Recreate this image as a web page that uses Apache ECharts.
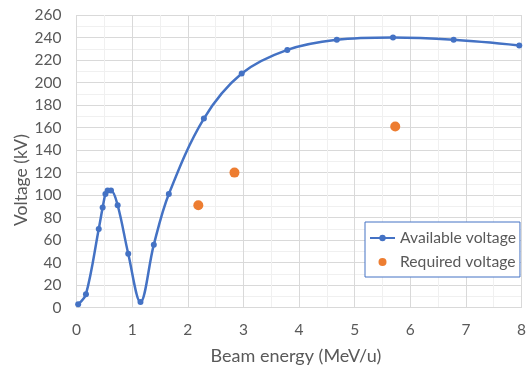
<!DOCTYPE html>
<html><head><meta charset="utf-8">
<script src="https://cdn.jsdelivr.net/npm/echarts@6/dist/echarts.min.js"></script>
<style>html,body{margin:0;padding:0;background:#fff}#c{width:529px;height:372px}</style>
</head><body><div id="c"></div>
<script>
const availEnergy = [0.03, 0.17, 0.40, 0.47, 0.52, 0.56, 0.62, 0.74, 0.93, 1.15, 1.39, 1.66, 2.29, 2.97, 3.79, 4.68, 5.69, 6.78, 7.96];
const availVoltage = [3, 12, 70, 89, 101, 104, 104, 91, 48, 5, 56, 101, 168, 208, 229, 238, 240, 238, 233];
const reqEnergy = [2.19, 2.84, 5.73];
const reqVoltage = [91, 120, 161];
const xTitle = 'Beam energy (MeV/u)';
const yTitle = 'Voltage (kV)';
const seriesNames = ['Available voltage', 'Required voltage'];

const FONT = 'Lato';
const chart = echarts.init(document.getElementById('c'), null, {renderer: 'canvas'});
chart.setOption({
  animation: false,
  textStyle: {fontFamily: FONT},
  grid: {left: 76.5, right: 3, top: 15, bottom: 64.3, containLabel: false},
  xAxis: {
    type: 'value', min: 0, max: 8, interval: 1,
    axisLine: {show: true, lineStyle: {color: '#d9d9d9', width: 1}},
    axisTick: {show: false},
    axisLabel: {color: '#595959', fontSize: 15.5, margin: 14, fontFamily: FONT},
    splitLine: {show: true, lineStyle: {color: '#d9d9d9', width: 1}},
    minorTick: {show: false, splitNumber: 2},
    minorSplitLine: {show: true, lineStyle: {color: '#f0f0f0', width: 1}}
  },
  yAxis: {
    type: 'value', min: 0, max: 260, interval: 20,
    axisLine: {show: false},
    axisTick: {show: false},
    axisLabel: {color: '#595959', fontSize: 15.5, margin: 15, fontFamily: FONT},
    splitLine: {show: true, lineStyle: {color: '#d9d9d9', width: 1}},
    minorTick: {show: false, splitNumber: 2},
    minorSplitLine: {show: true, lineStyle: {color: '#f0f0f0', width: 1}}
  },
  legend: {
    show: true,
    orient: 'vertical',
    left: 365, top: 222,
    padding: [8, 4, 7, 4],
    itemGap: 8,
    itemWidth: 25, itemHeight: 8,
    borderColor: '#4472C4', borderWidth: 1,
    backgroundColor: '#fff',
    textStyle: {color: '#595959', fontSize: 15.7, fontFamily: FONT},
    data: [seriesNames[0], {name: seriesNames[1], icon: 'circle', itemStyle: {color: '#ED7D31'}}]
  },
  graphic: [
    {type: 'text', x: 296, y: 356, style: {text: xTitle, fill: '#595959', font: '18px ' + FONT, align: 'center', verticalAlign: 'middle'}},
    {type: 'text', x: 21, y: 180, rotation: Math.PI / 2, style: {text: yTitle, fill: '#595959', font: '17.5px ' + FONT, align: 'center', verticalAlign: 'middle'}}
  ],
  series: [
    {
      name: seriesNames[0], type: 'line', smooth: 0.35,
      data: availEnergy.map((x, i) => [x, availVoltage[i]]),
      symbol: 'circle', symbolSize: 6,
      lineStyle: {color: '#4472C4', width: 2.5},
      itemStyle: {color: '#4472C4'}
    },
    {
      name: seriesNames[1], type: 'scatter',
      data: reqEnergy.map((x, i) => [x, reqVoltage[i]]),
      symbol: 'circle', symbolSize: 10,
      itemStyle: {color: '#ED7D31', opacity: 1}
    }
  ]
});
</script></body></html>
